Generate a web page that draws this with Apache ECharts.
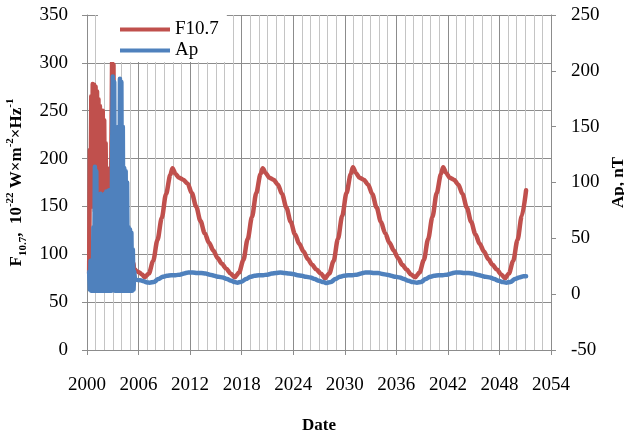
<!DOCTYPE html>
<html>
<head>
<meta charset="utf-8">
<script src="https://cdn.jsdelivr.net/npm/echarts@6/dist/echarts.min.js"></script>
<style>html,body{margin:0;padding:0;background:#fff}#c{width:624px;height:436px}</style>
</head>
<body>
<div id="c"></div>
<script>
// ---- Data ----
const xTicks = [2000, 2006, 2012, 2018, 2024, 2030, 2036, 2042, 2048, 2054];
const leftTicks = [0, 50, 100, 150, 200, 250, 300, 350];
const rightTicks = [-50, 0, 50, 100, 150, 200, 250];

// early noisy period, monthly samples starting April 2000
const earlyStartMonth = 3; // months after Jan 2000
const f107Early = [80,209,150,265,160,278,150,277,145,275,150,270,150,262,140,255,150,250,145,250,140,240,150,216,140,190,130,185,125,180,120,200,300,120,298,115,170,110,165,100,160,95,150,90,145,88,140,85,130,85,125,82,115,80,110,78,105,78,100,77,95,76,90,82,84];
const apEarly = [20,4,30,3,25,5,60,3,114,4,110,3,70,4,88,3,90,4,85,3,80,4,90,3,92,4,70,3,93,4,60,3,120,195,4,190,3,78,4,75,3,150,4,193,3,190,4,150,3,113,4,110,3,100,4,60,3,58,4,55,3,40,4,20,13];

// smooth forecast period [year, value]
const f107Late = [
 [2005.85,82],[2006.1,81],[2006.4,79],[2006.7,76],
 [2007.2,80],[2007.7,93],[2008.2,115],[2008.7,138],[2009.2,163],[2009.7,183],[2009.95,190],[2010.3,184],[2010.7,180],[2011.2,178],[2011.7,174],[2012.2,164],[2012.7,150],[2013.2,135],[2013.7,122],[2014.2,112],[2014.7,104],[2015.2,96],[2015.7,90],[2016.2,85],[2016.7,80],[2017.2,76],
 [2017.7,81],[2018.2,94],[2018.7,116],[2019.2,139],[2019.7,164],[2020.2,184],[2020.45,190],[2020.8,185],[2021.2,180],[2021.7,178],[2022.2,173],[2022.7,163],[2023.2,149],[2023.7,134],[2024.2,121],[2024.7,111],[2025.2,103],[2025.7,95],[2026.2,89],[2026.7,84],[2027.2,80],[2027.7,75],
 [2028.2,80],[2028.7,93],[2029.2,116],[2029.7,140],[2030.2,164],[2030.7,184],[2030.95,191],[2031.3,185],[2031.7,180],[2032.2,178],[2032.7,173],[2033.2,163],[2033.7,149],[2034.2,134],[2034.7,122],[2035.2,112],[2035.7,104],[2036.2,96],[2036.7,89],[2037.2,84],[2037.7,79],[2038.2,76],
 [2038.7,81],[2039.2,94],[2039.7,116],[2040.2,139],[2040.7,164],[2041.2,184],[2041.45,191],[2041.8,185],[2042.2,180],[2042.7,178],[2043.2,173],[2043.7,163],[2044.2,149],[2044.7,134],[2045.2,121],[2045.7,111],[2046.2,103],[2046.7,95],[2047.2,89],[2047.7,84],[2048.2,79],[2048.65,75],
 [2049.1,80],[2049.6,93],[2050.1,115],[2050.6,140],[2051.1,167]
];
const apLate = [
 [2006.2,12.5],[2006.6,11.5],[2007.0,10.5],[2007.3,10.3],
 [2007.8,11],[2008.3,13.5],[2008.8,15.5],[2009.3,16.5],[2009.8,17],[2010.3,17],[2010.8,17.5],[2011.3,18.5],[2011.8,19.5],[2012.3,19.5],[2012.8,19],[2013.3,19],[2013.8,18.5],[2014.3,17.5],[2014.8,16.5],[2015.3,15.5],[2015.8,15],[2016.3,13.5],[2016.8,12],[2017.2,10.8],[2017.5,10.3],
 [2018.0,11.2],[2018.5,13.5],[2019.0,15.5],[2019.5,16.5],[2020.0,17],[2020.5,17],[2021.0,17.5],[2021.5,18.5],[2022.0,19],[2022.5,19.5],[2023.0,19],[2023.5,18.5],[2024.0,18],[2024.5,17],[2025.0,16.5],[2025.5,15.5],[2026.0,15],[2026.5,13.5],[2027.0,12],[2027.5,10.8],[2027.9,10],
 [2028.4,11],[2028.9,13.5],[2029.4,15.5],[2029.9,16.5],[2030.4,17],[2030.9,17],[2031.4,17.5],[2031.9,18.5],[2032.4,19.5],[2032.9,19.5],[2033.4,19],[2033.9,19],[2034.4,18],[2034.9,17.5],[2035.4,16.5],[2035.9,15.5],[2036.4,15],[2036.9,13.5],[2037.4,12],[2037.9,10.8],[2038.4,10.3],
 [2038.9,11],[2039.4,13.5],[2039.9,15.5],[2040.4,16.5],[2040.9,17],[2041.4,17],[2041.9,17.5],[2042.4,18.5],[2042.9,19.5],[2043.4,19.5],[2043.9,19],[2044.4,19],[2044.9,18.5],[2045.4,17.5],[2045.9,16.5],[2046.4,15.5],[2046.9,15],[2047.4,13.5],[2047.9,12],[2048.4,10.8],[2048.8,10.3],
 [2049.3,11],[2049.8,13.5],[2050.3,15],[2050.8,16],[2051.1,16]
];

// ---- Build series data ----
function monthYear(i){ return 2000 + (earlyStartMonth + i) / 12; }
const f107EarlyData = f107Early.map((v,i)=>[monthYear(i), v]);
const apEarlyData = apEarly.map((v,i)=>[monthYear(i), v]);
const f107LateData = [f107EarlyData[f107EarlyData.length-1]].concat(f107Late);
const apLateData = [apEarlyData[apEarlyData.length-1]].concat(apLate);

const FONT = '"Liberation Serif", "Times New Roman", serif';
const GRID_DARK = '#8c8c8c';
const GRID_LIGHT = '#c4c4c4';
const RED = '#C0504D';
const BLUE = '#4F81BD';

function lineSeries(name, axis, data, color, smooth){
  return {
    name: name, type: 'line', yAxisIndex: axis,
    data: data, showSymbol: false, smooth: smooth, smoothMonotone: 'x',
    lineStyle: {color: color, width: 4.5, cap: 'round', join: 'round'},
    itemStyle: {color: color}
  };
}

const chart = echarts.init(document.getElementById('c'), null, {renderer:'canvas'});
chart.setOption({
  backgroundColor: '#ffffff',
  animation: false,
  grid: {left: 87, right: 73, top: 15, bottom: 86, containLabel: false, outerBoundsMode: 'none'},
  legend: {
    data: ['F10.7', 'Ap'],
    orient: 'vertical',
    left: 98, top: 15,
    backgroundColor: '#ffffff',
    padding: [5, 8, 2, 22],
    itemWidth: 50, itemHeight: 4, itemGap: 2,
    icon: 'rect',
    textStyle: {fontFamily: FONT, fontSize: 19, color: '#000', lineHeight: 18}
  },
  xAxis: {
    type: 'value',
    min: xTicks[0], max: xTicks[xTicks.length-1], interval: 6,
    name: 'Date', nameLocation: 'middle', nameGap: 67,
    nameTextStyle: {fontFamily: FONT, fontSize: 17, fontWeight: 'bold', color: '#000'},
    axisLine: {show: true, lineStyle: {color: GRID_DARK, width: 1}},
    axisTick: {show: true, inside: false, length: 5, lineStyle: {color: GRID_DARK}},
    axisLabel: {fontFamily: FONT, fontSize: 19, color: '#000', margin: 26, formatter: v => String(v)},
    splitLine: {show: true, lineStyle: {color: GRID_DARK, width: 1}},
    minorTick: {show: false, splitNumber: 6},
    minorSplitLine: {show: true, lineStyle: {color: GRID_LIGHT, width: 1}}
  },
  yAxis: [{
    type: 'value', position: 'left',
    min: leftTicks[0], max: leftTicks[leftTicks.length-1], interval: 50,
    name: '{b|F}{sub|10.7}{b|,  10}{sup|-22}{b| W×m}{sup|-2}{b|×Hz}{sup|-1}',
    nameLocation: 'middle', nameRotate: 90, nameGap: 57,
    nameTextStyle: {
      fontFamily: FONT, fontSize: 17, fontWeight: 'bold', color: '#000',
      rich: {
        b: {fontFamily: FONT, fontSize: 17, fontWeight: 'bold', color: '#000', lineHeight: 24, verticalAlign: 'middle'},
        sub: {fontFamily: FONT, fontSize: 11, fontWeight: 'bold', color: '#000', lineHeight: 12, verticalAlign: 'bottom'},
        sup: {fontFamily: FONT, fontSize: 11, fontWeight: 'bold', color: '#000', lineHeight: 12, verticalAlign: 'top'}
      }
    },
    axisLine: {show: true, lineStyle: {color: GRID_DARK, width: 1}},
    axisTick: {show: true, inside: false, length: 5, lineStyle: {color: GRID_DARK}},
    axisLabel: {fontFamily: FONT, fontSize: 19, color: '#000', margin: 19},
    splitLine: {show: true, lineStyle: {color: GRID_DARK, width: 1}}
  }, {
    type: 'value', position: 'right',
    min: rightTicks[0], max: rightTicks[rightTicks.length-1], interval: 50,
    name: 'Ap, nT', nameLocation: 'middle', nameRotate: 90, nameGap: 54,
    nameTextStyle: {fontFamily: FONT, fontSize: 17, fontWeight: 'bold', color: '#000'},
    axisLine: {show: true, lineStyle: {color: GRID_DARK, width: 1}},
    axisTick: {show: true, inside: false, length: 5, lineStyle: {color: GRID_DARK}},
    axisLabel: {fontFamily: FONT, fontSize: 19, color: '#000', margin: 20},
    splitLine: {show: false}
  }],
  series: [
    lineSeries('F10.7', 0, f107EarlyData, RED, false),
    lineSeries('F10.7', 0, f107LateData, RED, 0.3),
    lineSeries('Ap', 1, apEarlyData, BLUE, false),
    lineSeries('Ap', 1, apLateData, BLUE, 0.3)
  ]
});
</script>
</body>
</html>
